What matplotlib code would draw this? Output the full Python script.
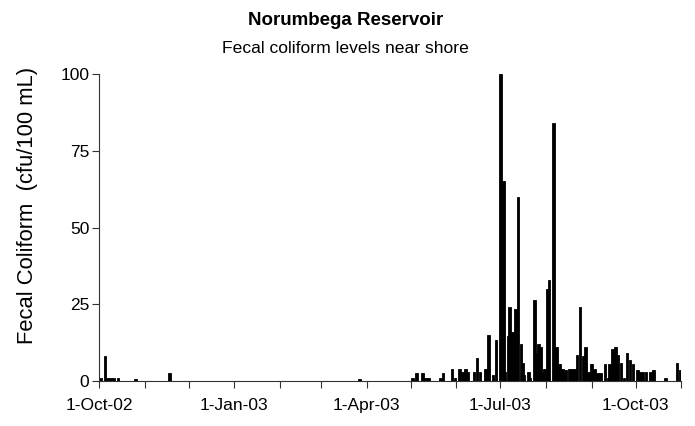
import matplotlib
matplotlib.use('Agg')
import matplotlib.pyplot as plt
import matplotlib.dates as mdates
import pandas as pd

plt.rcParams['font.family'] = ['Liberation Sans', 'DejaVu Sans']

# sample dates and fecal coliform counts (cfu/100 mL)
sample_dates = [
    "2002-10-02", "2002-10-05", "2002-10-07", "2002-10-09", "2002-10-11", "2002-10-14",
    "2002-10-26", "2002-11-18",
    "2003-03-27",
    "2003-05-02", "2003-05-05", "2003-05-09", "2003-05-11", "2003-05-13", "2003-05-21",
    "2003-05-23", "2003-05-29", "2003-05-31",
    "2003-06-03", "2003-06-05", "2003-06-07", "2003-06-09", "2003-06-13", "2003-06-15",
    "2003-06-17", "2003-06-21", "2003-06-23", "2003-06-26", "2003-06-28",
    "2003-07-01", "2003-07-03", "2003-07-04", "2003-07-06", "2003-07-07", "2003-07-09",
    "2003-07-11", "2003-07-13", "2003-07-15", "2003-07-16", "2003-07-17", "2003-07-20",
    "2003-07-21", "2003-07-24", "2003-07-25", "2003-07-27", "2003-07-28", "2003-07-30",
    "2003-07-31",
    "2003-08-02", "2003-08-03", "2003-08-06", "2003-08-08", "2003-08-10", "2003-08-12",
    "2003-08-14", "2003-08-17", "2003-08-19", "2003-08-21", "2003-08-22", "2003-08-24",
    "2003-08-26", "2003-08-28", "2003-08-30",
    "2003-09-01", "2003-09-03", "2003-09-05", "2003-09-07", "2003-09-10", "2003-09-12",
    "2003-09-13", "2003-09-15", "2003-09-17", "2003-09-19", "2003-09-21", "2003-09-23",
    "2003-09-25", "2003-09-27", "2003-09-29",
    "2003-10-02", "2003-10-04", "2003-10-06", "2003-10-08", "2003-10-11", "2003-10-13",
    "2003-10-21", "2003-10-29", "2003-10-31",
]
coliform = [
    1, 8, 1, 1, 1, 1,
    0.7, 2.5,
    0.7,
    1, 2.5, 2.5, 1, 1, 1,
    2.5, 4, 1,
    4, 3, 4, 3, 3, 7.5,
    3, 4, 15, 2, 13.5,
    100, 65, 3, 14.5, 24, 16,
    23.5, 60, 12, 6, 2, 3,
    1, 26.5, 9, 12, 11, 3,
    4,
    30, 33, 84, 11, 5.5, 4,
    3.5, 4, 4, 4, 8.5, 24,
    8, 11, 3,
    5.5, 4, 2.5, 2.5, 5.5, 1,
    5.5, 10.5, 11, 8.5, 6, 1,
    9, 7, 5.5,
    3.5, 3, 3, 3, 3, 3.5,
    1, 6, 3.5,
]
y_ticks = [0, 25, 50, 75, 100]

dates = pd.to_datetime(sample_dates)

fig = plt.figure(figsize=(6.95, 4.26), dpi=100)
ax = fig.add_axes([0.1424, 0.1056, 0.838, 0.7207])

ax.bar(dates, coliform, width=1.8, color='black', edgecolor='black', linewidth=0.6)

ax.set_xlim(pd.Timestamp("2002-10-01"), pd.Timestamp("2003-11-01"))
ax.set_ylim(0, 100)
ax.set_yticks(y_ticks)

ax.xaxis.set_major_locator(mdates.MonthLocator(bymonth=[1, 4, 7, 10]))
ax.xaxis.set_minor_locator(mdates.MonthLocator())
ax.xaxis.set_major_formatter(mdates.DateFormatter('1-%b-%y'))

for s in ['top', 'right']:
    ax.spines[s].set_visible(False)
for s in ['left', 'bottom']:
    ax.spines[s].set_linewidth(0.8)
    ax.spines[s].set_color('#333333')

ax.tick_params(axis='both', which='both', direction='out', length=5, width=0.8,
               color='#333333', labelsize=12.5)
ax.tick_params(axis='x', pad=7)
ax.tick_params(axis='y', pad=2)

ax.set_ylabel('Fecal Coliform  (cfu/100 mL)', fontsize=15.8)
ax.yaxis.set_label_coords(-0.104, 0.573)

fig.text(0.497, 0.952, 'Norumbega Reservoir', ha='center', va='center',
         fontsize=13.5, fontweight='bold')
fig.text(0.497, 0.887, 'Fecal coliform levels near shore', ha='center', va='center',
         fontsize=12.6)

fig.savefig('out.png', dpi=100)
